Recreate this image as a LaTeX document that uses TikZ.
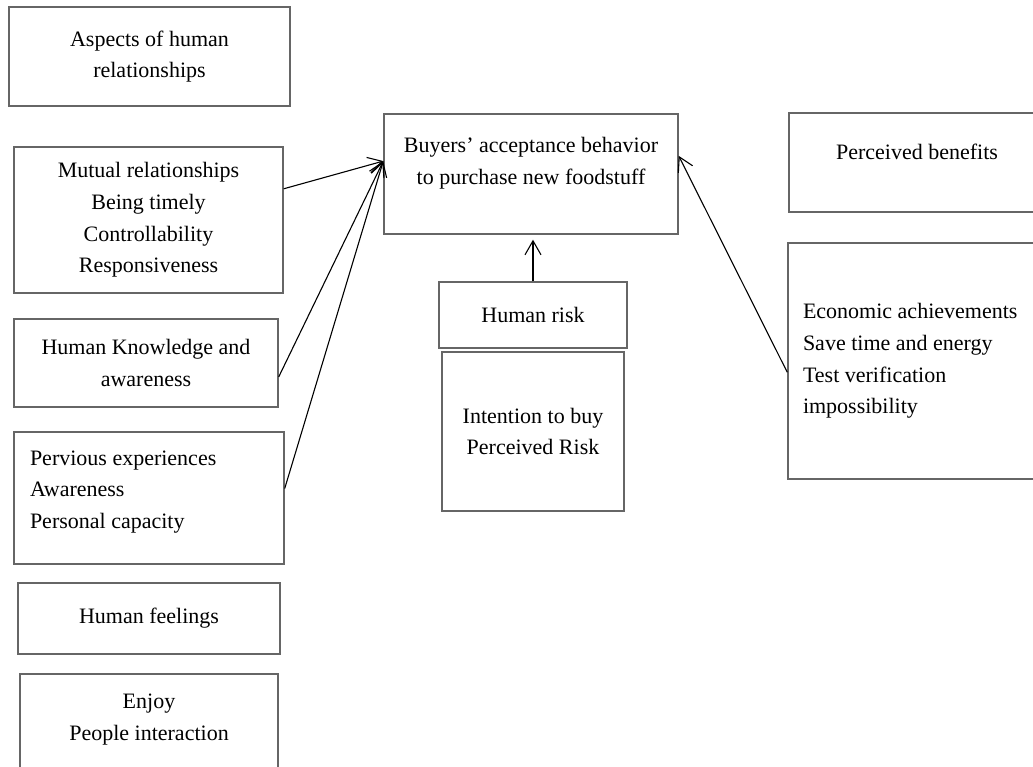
\documentclass[tikz,border=0pt]{standalone}
\usepackage{fontspec}
\setmainfont{Liberation Serif}
\usetikzlibrary{arrows.meta}

\tikzset{
  box/.style={draw=black!60, line width=1.4pt, inner sep=0pt, align=center,
    font=\fontsize{22}{31.7}\selectfont},
  lbox/.style={box, align=flush left, inner xsep=16pt},
  link/.style={-{Straight Barb[length=14pt,width=16pt]}, line width=1.1pt},
}

\begin{document}
\begin{tikzpicture}[x=1pt, y=-1pt]
    \useasboundingbox (0, 0) rectangle (1033, 766);
    % left column
    \path (149.5, 56.5) node [box, minimum width=281pt, minimum height=99pt] (asp)
	{Aspects of human\\relationships};
    \path (148.5, 220) node [box, minimum width=269pt, minimum height=146pt] (mut)
	{Mutual relationships\\Being timely\\Controllability\\Responsiveness};
    \path (146, 363) node [box, minimum width=264pt, minimum height=88pt] (kno)
	{Human Knowledge and\\awareness};
    \path (149, 498) node [lbox, text width=238pt, minimum height=132pt,
	text height=16pt, text depth=82pt] (pre)
	{Pervious experiences\\Awareness\\Personal capacity};
    \path (149, 618.5) node [box, minimum width=262pt, minimum height=71pt] (fee)
	{Human feelings};
    \path (149, 723) node [box, minimum width=258pt, minimum height=98pt,
	text height=48pt, text depth=14pt] (enj)
	{Enjoy\\People interaction};
    % middle column
    \path (531, 174) node [box, minimum width=294pt, minimum height=120pt,
	text height=48pt, text depth=28pt] (buy)
	{Buyers’ acceptance behavior\\to purchase new foodstuff};
    \path (533, 315) node [box, minimum width=188pt, minimum height=66pt] (hr)
	{Human risk};
    \path (533, 431.5) node [box, minimum width=182pt, minimum height=159pt] (int)
	{Intention to buy\\Perceived Risk};
    % right column
    \path (917, 162.5) node [box, minimum width=256pt, minimum height=99pt,
	text height=16pt, text depth=23pt] (ben)
	{Perceived benefits};
    \path (916.5, 361) node [lbox, inner xsep=15pt, text width=227pt, minimum height=236pt] (eco)
	{Economic achievements\\Save time and energy\\Test verification\\impossibility};

    \draw [link] (mut.13.8) -- (buy.175);
    \draw [link] (kno.-6.5) -- (buy.175);
    \draw [link] (pre.4.2) -- (buy.175);
    \draw [link, shorten >=5pt] (hr.north) -- (hr.north |- buy.south);
    \draw [link] (eco.185) -- (buy.7);
\end{tikzpicture}
\end{document}
